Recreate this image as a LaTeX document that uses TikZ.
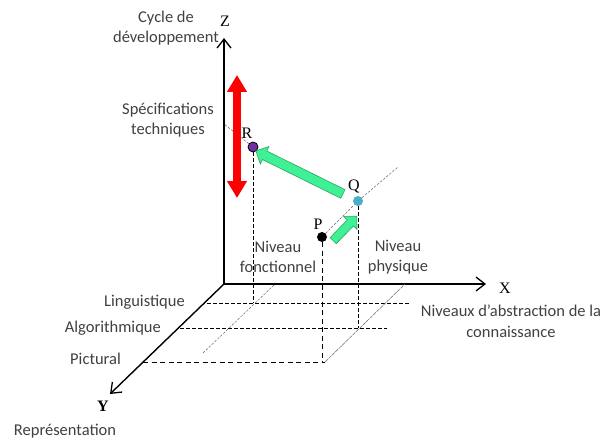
\documentclass[tikz,border=0pt]{standalone}
\usepackage{fontspec}
\setmainfont{Carlito}
\newfontfamily\axefont{Liberation Serif}
\usetikzlibrary{arrows.meta,shapes.arrows}
\definecolor{texte}{HTML}{404040}
\definecolor{vertclair}{HTML}{40F096}
\definecolor{vertfonce}{HTML}{26A85E}
\definecolor{bleuQ}{HTML}{4BACC6}
\definecolor{violetR}{HTML}{7030A0}

\begin{document}
\begin{tikzpicture}[x=1pt,y=-1pt,
    lbl/.style={font=\fontsize{16.5}{20.5}\selectfont, text=texte, align=center, inner sep=0pt},
    lettre/.style={font=\axefont\fontsize{16}{16}\selectfont, inner sep=0pt},
    axe/.style={line width=1.4pt, -{Straight Barb[length=9pt,width=14pt,line width=1.3pt]}},
    point/.style={circle, minimum size=10pt, inner sep=0pt},
    tiret/.style={line width=0.6pt, dash pattern=on 3.5pt off 2.5pt},
    fin/.style={gray!80!black, line width=0.5pt, dash pattern=on 2.5pt off 1.5pt},
    vert/.style={single arrow, fill=vertclair, draw=vertfonce, line width=0.6pt,
      inner xsep=0pt, inner ysep=4.5pt, single arrow head extend=5pt}]
    \useasboundingbox (0,0) rectangle (601,441);
    % les trois axes
    \coordinate (O) at (224,284);
    \coordinate (Z) at (224,38);
    \coordinate (X) at (486,284);
    \coordinate (Y) at (110,394);
    \draw[axe] (O) -- (Z);
    \draw[axe] (O) -- (X);
    \draw[axe] (O) -- (Y);
    \node[lettre] (lz) at (225,21) {Z};
    \node[lettre] (lx) at (505,288) {X};
    \node[lettre, font=\axefont\bfseries\fontsize{16}{16}\selectfont] (ly) at (103,406) {Y};
    % plan de base (Y)
    \draw[tiret] (207,303) -- (409,303);
    \draw[tiret] (180,328) -- (387,328);
    \draw[tiret, dash pattern=on 5pt off 3.5pt] (143,362) coordinate (pic) -- (325,362) coordinate (pic2);
    \draw[fin, dash pattern=on 4pt off 0.8pt] (pic2) -- (405,284);
    \draw[fin] (203,353) -- (274,285);
    % les points P, Q, R
    \node[point, fill=black] (P) at (322,237) {};
    \node[point, fill=bleuQ] (Q) at (358,201) {};
    \node[point, fill=violetR, draw=black, line width=0.8pt] (R) at (253,147) {};
    \node[lettre] (lp) at (318,224) {P};
    \node[lettre] (lq) at (354,186) {Q};
    \node[lettre] (lr) at (247,133) {R};
    \draw[tiret, dash pattern=on 5pt off 3.5pt] (P) -- (322,362);
    \draw[tiret] (Q) -- (358,328);
    \draw[tiret] (R) -- (253,303);
    \draw[fin] (P) -- (Q) -- (398,167);
    \draw[fin] (R) -- (224,124);
    % fleches
    \draw[red, line width=8pt, {Triangle[length=17pt,width=19pt]}-{Triangle[length=17pt,width=19pt]}] (237,75) -- (237,198);
    \node[vert, minimum height=97pt, rotate=153.7] (qr) at (301.5,173.5) {};
    \node[vert, minimum height=34pt, inner ysep=4pt, rotate=46] (pq) at (343.5,230) {};
    % textes
    \node[lbl] (cycle) at (166,28) {Cycle de\\développement};
    \node[lbl] (spec) at (168,120) {Spécifications\\techniques};
    \node[lbl] (fonc) at (278,257) {Niveau\\fonctionnel};
    \node[lbl] (phys) at (398,257) {Niveau\\physique};
    \node[lbl, anchor=east] (ling) at (185,302) {Linguistique};
    \node[lbl, anchor=east] (algo) at (161,328) {Algorithmique};
    \node[lbl, anchor=east] (pict) at (121,359) {Pictural};
    \node[lbl] (abs) at (511,321) {Niveaux d’abstraction de la\\connaissance};
    \node[lbl] (rep) at (65,431) {Représentation};
\end{tikzpicture}
\end{document}
